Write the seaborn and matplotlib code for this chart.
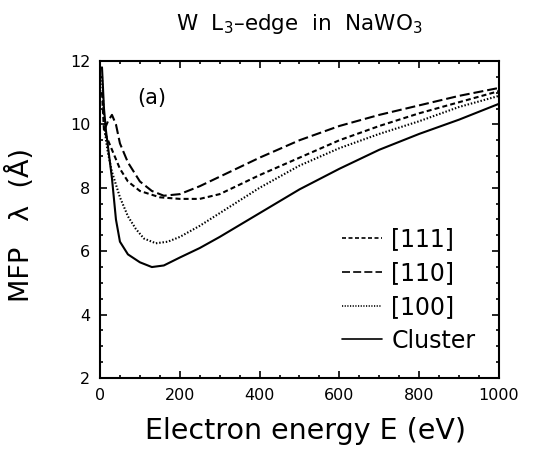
import numpy as np
import pandas as pd
import matplotlib
matplotlib.use("Agg")
import matplotlib.pyplot as plt
from matplotlib.ticker import MultipleLocator
import seaborn as sns

# ---- data ----
energy_111 = [5, 10, 20, 30, 50, 70, 100, 150, 200, 250, 300, 400, 500, 600, 700, 800, 900, 1000]
mfp_111 = [11.0, 9.8, 9.5, 9.2, 8.6, 8.2, 7.9, 7.7, 7.65, 7.65, 7.8, 8.4, 8.95, 9.5, 9.95, 10.35, 10.7, 11.05]

energy_110 = [10, 20, 30, 40, 50, 70, 100, 130, 160, 200, 250, 300, 400, 500, 600, 700, 800, 900, 1000]
mfp_110 = [9.8, 10.1, 10.3, 10.0, 9.4, 8.8, 8.2, 7.9, 7.75, 7.8, 8.05, 8.35, 8.95, 9.5, 9.95, 10.3, 10.6, 10.9, 11.15]

energy_100 = [5, 10, 15, 20, 30, 50, 70, 90, 110, 140, 170, 200, 250, 300, 400, 500, 600, 700, 800, 900, 1000]
mfp_100 = [11.5, 10.2, 9.5, 9.1, 8.5, 7.7, 7.1, 6.7, 6.4, 6.25, 6.3, 6.45, 6.8, 7.2, 8.0, 8.7, 9.25, 9.7, 10.1, 10.55, 10.9]

energy_cluster = [5, 10, 15, 20, 30, 40, 50, 70, 100, 130, 160, 200, 250, 300, 400, 500, 600, 700, 800, 900, 1000]
mfp_cluster = [11.8, 10.5, 9.8, 9.3, 8.3, 7.0, 6.3, 5.9, 5.65, 5.5, 5.55, 5.8, 6.1, 6.45, 7.2, 7.95, 8.6, 9.2, 9.7, 10.15, 10.65]

series_names = ["[111]", "[110]", "[100]", "Cluster"]
x_ticks = [0, 200, 400, 600, 800, 1000]
y_ticks = [2, 4, 6, 8, 10, 12]
title_text = "W  L$_3$\u2013edge  in  NaWO$_3$"
x_label = "Electron energy E (eV)"
y_label = "MFP   \u03bb  (\u00c5)"
panel_label = "(a)"

frames = []
for name, xs, ys in zip(series_names,
                        [energy_111, energy_110, energy_100, energy_cluster],
                        [mfp_111, mfp_110, mfp_100, mfp_cluster]):
    frames.append(pd.DataFrame({"E": xs, "MFP": ys, "series": name}))
df = pd.concat(frames, ignore_index=True)

sns.set_style("ticks")
plt.rcParams["font.family"] = ["DejaVu Sans"]
plt.rcParams["mathtext.fontset"] = "dejavusans"
plt.rcParams["text.color"] = "black"
plt.rcParams["axes.labelcolor"] = "black"
plt.rcParams["xtick.color"] = "black"
plt.rcParams["ytick.color"] = "black"

fig = plt.figure(figsize=(5.33, 4.62), dpi=100)
ax = fig.add_axes([0.1876, 0.1818, 0.7486, 0.6862])

lw = 1.5
dash_map = {
    "[111]": (2.4, 1.5),
    "[110]": (4.8, 1.9),
    "[100]": (0.7, 0.9),
    "Cluster": "",
}
sns.lineplot(data=df, x="E", y="MFP", style="series", style_order=series_names,
             dashes=dash_map, color="black", linewidth=lw, ax=ax,
             sort=False, estimator=None)

ax.set_xlim(0, 1000)
ax.set_ylim(2, 12)
ax.set_xticks(x_ticks)
ax.set_yticks(y_ticks)
ax.xaxis.set_minor_locator(MultipleLocator(50))
ax.yaxis.set_minor_locator(MultipleLocator(0.5))
ax.tick_params(which="both", direction="in", top=True, right=True, width=1.2, color="black")
ax.tick_params(which="major", length=5, labelsize=11.5, pad=7, labelcolor="black")
ax.tick_params(which="minor", length=2.5)
for s in ax.spines.values():
    s.set_linewidth(1.5)
    s.set_color("black")

ax.set_xlabel(x_label, fontsize=20.5, color="black")
ax.set_ylabel(y_label, fontsize=19.5, color="black")
ax.xaxis.set_label_coords(0.514, -0.123)
ax.yaxis.set_label_coords(-0.162, 0.483)
ax.set_title(title_text, fontsize=15.5, y=1.098, pad=0, color="black")

ax.text(93, 10.83, panel_label, fontsize=15, ha="left", va="center", color="black")

leg = ax.legend(loc="lower right", bbox_to_anchor=(0.965, 0.05), frameon=False,
                fontsize=17, handlelength=1.7, handletextpad=0.4, labelspacing=0.42,
                borderaxespad=0.0)
for h in leg.get_lines():
    h.set_linewidth(1.2)
for t in leg.get_texts():
    t.set_color("black")

fig.savefig("out.png", dpi=100)
